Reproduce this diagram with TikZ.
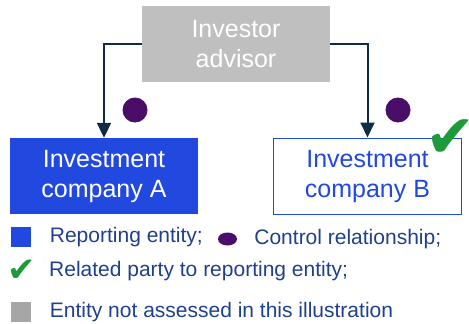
\documentclass[tikz,border=0pt]{standalone}
\usepackage{fontspec}
\setmainfont{Liberation Sans}
\newfontfamily\symfont{DejaVu Sans}
\usetikzlibrary{shapes.geometric, arrows.meta, positioning}
\definecolor{advgray}{RGB}{191,191,191}
\definecolor{repblue}{RGB}{33,73,224}
\definecolor{linknavy}{RGB}{17,42,70}
\definecolor{ctrlpurple}{RGB}{74,14,104}
\definecolor{relgreen}{RGB}{30,154,58}
\definecolor{keytext}{RGB}{31,64,140}
\definecolor{keygray}{RGB}{166,166,166}
\tikzset{
    entity/.style={
        rectangle, minimum width=188pt, minimum height=76pt,
        align=center, inner sep=0pt,
        font=\fontsize{25}{30}\selectfont
    },
    advisor/.style={entity, fill=advgray, text=white},
    reporting/.style={entity, fill=repblue, text=white},
    related/.style={entity, draw=repblue, line width=1pt, fill=white, text=repblue},
    link/.style={draw=linknavy, line width=2pt, -{Triangle[length=15pt, width=14pt]}},
    ctrldot/.style={circle, fill=ctrlpurple, minimum size=25pt, inner sep=0pt},
    tick/.style={text=relgreen, inner sep=0pt},
    keybox/.style={rectangle, minimum size=20pt, inner sep=0pt},
    keytxt/.style={text=keytext, inner sep=0pt, anchor=west,
        font=\fontsize{21}{25}\selectfont}
}

\begin{document}
\begin{tikzpicture}[x=1pt, y=-1pt]
\useasboundingbox (0,0) rectangle (469,324);

% structure
\node[advisor] (adv) at (236,44) {Investor\\advisor};
\node[reporting] (coA) at (104,176) {Investment\\company A};
\node[related] (coB) at (367.5,176) {Investment\\company B};

\draw[link] (adv.west) -| (coA.north);
\draw[link] (adv.east) -| (coB.north);

\node[ctrldot] (dotA) at (135,110) {};
\node[ctrldot] (dotB) at (398,110) {};
\node[tick, font=\symfont\fontsize{60}{60}\selectfont] (tkB) at (451,139) {✔};

% key
\node[keybox, fill=repblue] (kRep) at (20.5,237) {};
\node[keytxt, right=19pt of kRep.east] (tRep) {Reporting entity;};
\node[ellipse, fill=ctrlpurple, minimum width=19pt, minimum height=13pt, inner sep=0pt] (kCtrl) at (227.5,239) {};
\node[keytxt, right=17pt of kCtrl.east] (tCtrl) {Control relationship;};
\node[tick, font=\symfont\fontsize{34}{34}\selectfont] (kRel) at (21.5,271) {✔};
\node[keytxt] (tRel) at (49,271) {Related party to reporting entity;};
\node[keybox, fill=keygray] (kNot) at (20.5,312) {};
\node[keytxt, right=19pt of kNot.east] (tNot) {Entity not assessed in this illustration};

\end{tikzpicture}
\end{document}
